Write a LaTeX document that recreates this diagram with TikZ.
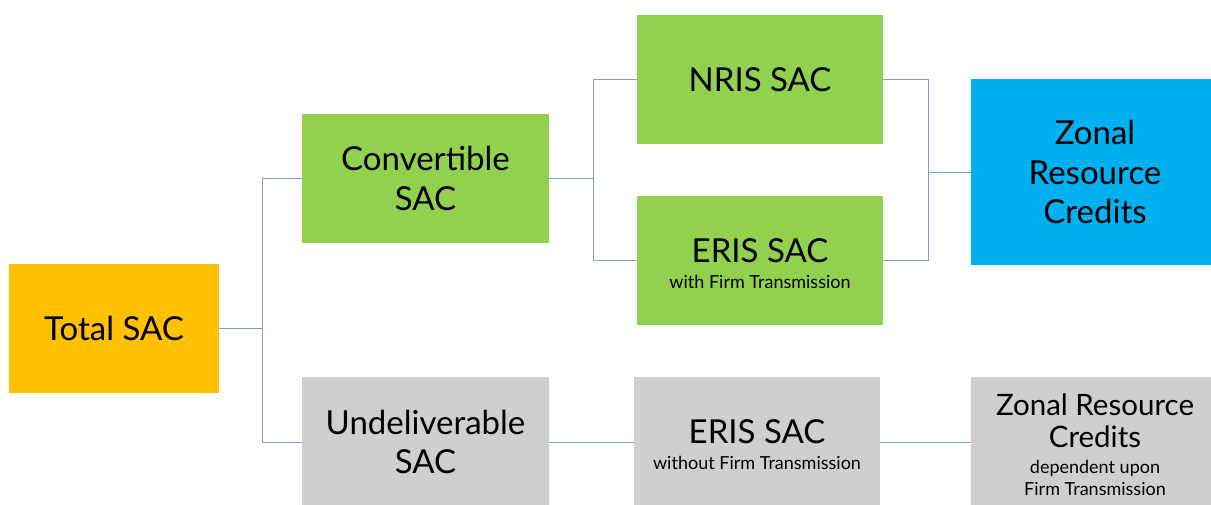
\documentclass[tikz,border=0pt]{standalone}
\usepackage{fontspec}
\setmainfont{Lato}
\definecolor{cOrange}{HTML}{FFC000}
\definecolor{cGreen}{HTML}{92D050}
\definecolor{cBlue}{HTML}{00B0F0}
\definecolor{cGray}{HTML}{D0CECE}
\definecolor{cLine}{RGB}{125,155,215}
\newcommand{\bigf}{\fontsize{33}{40}\selectfont}
\newcommand{\midf}{\fontsize{29.5}{40}\selectfont}
\newcommand{\smallf}{\fontsize{18}{40}\selectfont}
\tikzset{
  box/.style={rectangle, inner sep=0pt, align=center, text=black},
  big/.style={font=\fontsize{33}{39.5}\selectfont},
  mixed/.style={font=\fontsize{18}{40}\selectfont},
  conn/.style={draw=cLine, line width=0.9pt},
}
\begin{document}
\begin{tikzpicture}[x=1pt,y=-1pt]
\useasboundingbox (0,0) rectangle (1211,504);
\node[box,big,fill=cOrange,minimum width=210pt,minimum height=129pt] (total) at (114,328.5) {Total SAC};
\node[box,big,fill=cGreen,minimum width=247pt,minimum height=129pt] (conv) at (425.5,178.5) {Convertible\\SAC};
\node[box,big,fill=cGray,minimum width=247pt,minimum height=130pt] (undel) at (425.5,442) {Undeliverable\\SAC};
\node[box,big,fill=cGreen,minimum width=246pt,minimum height=129pt] (nris) at (760,79.5) {NRIS SAC};
\node[box,mixed,fill=cGreen,minimum width=246pt,minimum height=129pt] (eris) at (760,260.5)
  {\bigf\rule{0pt}{30pt}ERIS SAC\\[-14pt]\smallf with Firm Transmission};
\node[box,big,fill=cBlue,minimum width=248pt,minimum height=186pt] (zonal) at (1095,172) {Zonal\\Resource\\Credits};
\node[box,mixed,fill=cGray,minimum width=246pt,minimum height=130pt] (erisw) at (757,442)
  {\bigf\rule{0pt}{30pt}ERIS SAC\\[-14pt]\smallf without Firm Transmission};
\node[box,mixed,fill=cGray,minimum width=248pt,minimum height=130pt] (zonalg) at (1095,442)
  {\midf\rule{0pt}{27pt}Zonal Resource\\[-8pt]\midf Credits\\[-14pt]\smallf dependent upon\\[-18pt]\smallf Firm Transmission};
\draw[conn] (total.east) -- ++(43,0) |- (conv.west);
\draw[conn] (total.east) -- ++(43,0) |- (undel.west);
\draw[conn] (conv.east) -- ++(44,0) |- (nris.west);
\draw[conn] (conv.east) -- ++(44,0) |- (eris.west);
\draw[conn] (nris.east) -- ++(45,0) |- (zonal.west);
\draw[conn] (eris.east) -- ++(45,0) |- (zonal.west);
\draw[conn] (undel.east) -- (erisw.west);
\draw[conn] (erisw.east) -- (zonalg.west);
\end{tikzpicture}
\end{document}
